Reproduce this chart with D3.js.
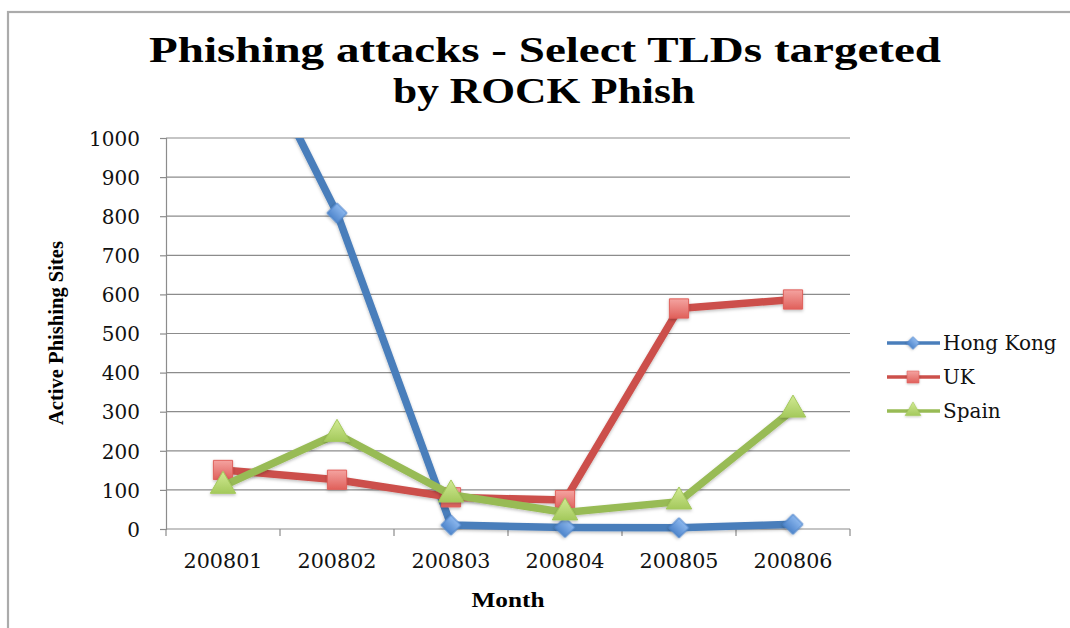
<!DOCTYPE html>
<html>
<head>
<meta charset="utf-8">
<script src="https://cdn.jsdelivr.net/npm/d3@7"></script>
<style>
  html, body { margin: 0; padding: 0; background: #fff; }
  svg { display: block; }
</style>
</head>
<body>
<svg id="chart" width="1070" height="628"></svg>
<script>
// Monthly active phishing sites per targeted TLD
const months = ["200801", "200802", "200803", "200804", "200805", "200806"];
const hongKong = [1390, 808, 10, 4, 3, 12];
const uk = [151, 126, 81, 74, 564, 587];
const spain = [110, 243, 88, 42, 70, 305];
const yTicks = [0, 100, 200, 300, 400, 500, 600, 700, 800, 900, 1000];
const seriesNames = ["Hong Kong", "UK", "Spain"];

const series = [
  { name: seriesNames[0], values: hongKong, line: "#4a7ebb", light: "#8db8ee", dark: "#4f86cc", shape: "diamond" },
  { name: seriesNames[1], values: uk, line: "#cc504b", light: "#f4a3a0", dark: "#e0605b", shape: "square" },
  { name: seriesNames[2], values: spain, line: "#98bb55", light: "#d2ea94", dark: "#a4c95c", shape: "triangle" }
];

const svg = d3.select("#chart");
const plot = { left: 166, right: 850, top: 138, bottom: 529 };
const labelFont = "'DejaVu Serif', serif";
const labelSize = 20;

// Outer chart frame
svg.append("rect")
  .attr("x", 8).attr("y", 12).attr("width", 1100).attr("height", 700)
  .attr("fill", "#fff").attr("stroke", "#ababab").attr("stroke-width", 2.2);

const defs = svg.append("defs");
series.forEach((s, i) => {
  const g = defs.append("linearGradient").attr("id", "grad" + i)
    .attr("x1", 0).attr("y1", 0).attr("x2", 0).attr("y2", 1);
  g.append("stop").attr("offset", "0%").attr("stop-color", s.light);
  g.append("stop").attr("offset", "100%").attr("stop-color", s.dark);
});
const shadow = defs.append("filter").attr("id", "shadow")
  .attr("x", "-30%").attr("y", "-30%").attr("width", "160%").attr("height", "160%");
shadow.append("feDropShadow").attr("dx", 0).attr("dy", 1.5).attr("stdDeviation", 1.5)
  .attr("flood-color", "#000").attr("flood-opacity", 0.25);
defs.append("clipPath").attr("id", "plotClip").append("rect")
  .attr("x", plot.left - 20).attr("y", plot.top)
  .attr("width", plot.right - plot.left + 40).attr("height", plot.bottom - plot.top + 30);

const x = d3.scaleBand().domain(months).range([plot.left, plot.right]).padding(0);
const y = d3.scaleLinear().domain([0, 1000]).range([plot.bottom, plot.top]);

// Title
const title = svg.append("g").attr("font-family", "'Liberation Serif', serif")
  .attr("font-weight", "bold").attr("font-size", 36).attr("fill", "#000");
title.append("text").attr("x", 545).attr("y", 62).attr("text-anchor", "middle")
  .attr("textLength", 792).attr("lengthAdjust", "spacingAndGlyphs")
  .text("Phishing attacks - Select TLDs targeted");
title.append("text").attr("x", 544).attr("y", 103).attr("text-anchor", "middle")
  .attr("textLength", 302).attr("lengthAdjust", "spacingAndGlyphs")
  .text("by ROCK Phish");

// Horizontal gridlines
svg.append("g").selectAll("line").data(yTicks.filter(d => d > 0)).join("line")
  .attr("x1", plot.left).attr("x2", plot.right)
  .attr("y1", d => y(d)).attr("y2", d => y(d))
  .attr("stroke", "#8c8c8c").attr("stroke-width", 1.2);

// Y axis
const yAxis = svg.append("g").attr("transform", `translate(${plot.left},0)`)
  .call(d3.axisLeft(y).tickValues(yTicks).tickSize(6).tickPadding(20).tickFormat(d3.format("d")));
yAxis.select(".domain").attr("stroke", "#8c8c8c").attr("stroke-width", 1.2);
yAxis.selectAll(".tick line").attr("stroke", "#8c8c8c").attr("stroke-width", 1.2);
yAxis.selectAll(".tick text").attr("font-family", labelFont)
  .attr("font-size", labelSize).attr("fill", "#111").attr("dy", "0.36em");

// X axis with ticks at category boundaries
const xAxisG = svg.append("g").attr("transform", `translate(0,${plot.bottom})`);
xAxisG.append("line").attr("x1", plot.left).attr("x2", plot.right)
  .attr("stroke", "#8c8c8c").attr("stroke-width", 1.2);
const bounds = months.map(m => x(m)).concat([x(months[months.length - 1]) + x.bandwidth()]);
xAxisG.selectAll("line.tk").data(bounds).join("line").attr("class", "tk")
  .attr("x1", d => d).attr("x2", d => d).attr("y1", 0).attr("y2", 7)
  .attr("stroke", "#8c8c8c").attr("stroke-width", 1.2);
xAxisG.selectAll("text").data(months).join("text")
  .attr("x", d => x(d) + x.bandwidth() / 2).attr("y", 39)
  .attr("text-anchor", "middle").attr("font-family", labelFont)
  .attr("font-size", labelSize).attr("fill", "#111")
  .attr("textLength", 79).attr("lengthAdjust", "spacingAndGlyphs").text(d => d);

// Axis titles
svg.append("text").attr("x", 508).attr("y", 607).attr("text-anchor", "middle")
  .attr("font-family", "'Liberation Serif', serif").attr("font-weight", "bold")
  .attr("font-size", 21).attr("textLength", 73).attr("lengthAdjust", "spacingAndGlyphs")
  .text("Month");
svg.append("text").attr("transform", "translate(63,333) rotate(-90)")
  .attr("text-anchor", "middle")
  .attr("font-family", "'Liberation Serif', serif").attr("font-weight", "bold")
  .attr("font-size", 22).attr("textLength", 184).attr("lengthAdjust", "spacingAndGlyphs")
  .text("Active Phishing Sites");

// Marker shapes
const symbolFor = {
  diamond: d3.symbol().type(d3.symbolSquare).size(200),
  square: d3.symbol().type(d3.symbolSquare).size(370),
  triangle: d3.symbol().type(d3.symbolTriangle).size(280)
};
function drawMarker(sel, s, i) {
  const p = sel.append("path").attr("d", symbolFor[s.shape]())
    .attr("fill", `url(#grad${i})`).attr("stroke", s.dark).attr("stroke-width", 1)
    .attr("filter", "url(#shadow)");
  if (s.shape === "diamond") p.attr("transform", "rotate(45)");
  return p;
}

// Series lines and markers
const lineGen = d3.line().x((d, j) => x(months[j]) + x.bandwidth() / 2).y(d => y(d));
const seriesLayer = svg.append("g").attr("clip-path", "url(#plotClip)");
series.forEach((s, i) => {
  const g = seriesLayer.append("g");
  g.append("path").datum(s.values).attr("d", lineGen)
    .attr("fill", "none").attr("stroke", s.line).attr("stroke-width", 7.5)
    .attr("stroke-linejoin", "round").attr("filter", "url(#shadow)");
  s.values.forEach((v, j) => {
    if (v > 1000) return;
    const m = g.append("g").attr("transform", `translate(${x(months[j]) + x.bandwidth() / 2},${y(v)})`);
    drawMarker(m, s, i);
  });
});

// Legend
const legend = svg.append("g");
series.forEach((s, i) => {
  const ly = 343 + i * 34;
  const row = legend.append("g").attr("transform", `translate(0,${ly})`);
  row.append("line").attr("x1", 887).attr("x2", 940).attr("y1", 0).attr("y2", 0)
    .attr("stroke", s.line).attr("stroke-width", 3.5);
  const m = row.append("g").attr("transform", "translate(913,0) scale(0.62)");
  drawMarker(m, s, i);
  row.append("text").attr("x", 943).attr("y", 0).attr("dy", "0.35em")
    .attr("font-family", labelFont).attr("font-size", labelSize)
    .attr("fill", "#111").text(s.name);
});
</script>
</body>
</html>
